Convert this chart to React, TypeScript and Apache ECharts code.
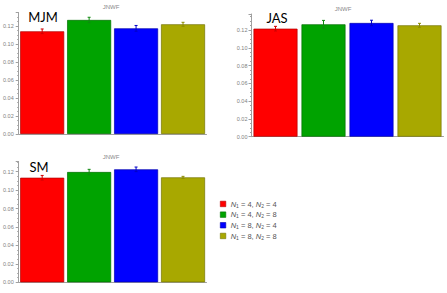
import React, { useEffect, useRef } from "react";
import * as echarts from "echarts";

const categories = ["N1=4,N2=4", "N1=4,N2=8", "N1=8,N2=4", "N1=8,N2=8"];
const legendLabels = [
  "{i|N}{s|1} = 4, {i|N}{s|2} = 4",
  "{i|N}{s|1} = 4, {i|N}{s|2} = 8",
  "{i|N}{s|1} = 8, {i|N}{s|2} = 4",
  "{i|N}{s|1} = 8, {i|N}{s|2} = 8",
];
const barColors = ["#ff0000", "#00a300", "#0000ff", "#a8a800"];
const edgeColors = ["#b30000", "#007000", "#0000b0", "#747400"];
const errorColors = ["#d00000", "#108a10", "#0000c8", "#8c8c00"];

const panelNames = ["MJM", "JAS", "SM"];
const panelTitle = "JNWF";
const mjmValues = [0.1141, 0.1267, 0.1174, 0.1219];
const mjmErrors = [0.0026, 0.003, 0.0032, 0.0022];
const jasValues = [0.1215, 0.1264, 0.1279, 0.1253];
const jasErrors = [0.0026, 0.0044, 0.0031, 0.0022];
const smValues = [0.1134, 0.1196, 0.1225, 0.1138];
const smErrors = [0.0025, 0.0029, 0.0025, 0.0011];
const yMax = [0.135, 0.138, 0.131];

const panels = [
  { values: mjmValues, errors: mjmErrors, grid: { left: 14.5, top: 12.5, width: 192, height: 121.5 }, title: [111, 7], label: [43, 17], labelMargin: 5 },
  { values: jasValues, errors: jasErrors, grid: { left: 251.5, top: 14, width: 192, height: 122.7 }, title: [343, 9], label: [277, 17.7], labelMargin: 4 },
  { values: smValues, errors: smErrors, grid: { left: 14.5, top: 161.5, width: 192, height: 120.8 }, title: [111, 157], label: [39, 166.5], labelMargin: 5 },
];

export default function App() {
  const ref = useRef<HTMLDivElement>(null);
  useEffect(() => {
    if (!ref.current) return;
    const chart = echarts.init(ref.current, undefined, { renderer: "svg" });
    const axisColor = "#a0a0a0";
    const grids: any[] = [];
    const xAxes: any[] = [];
    const yAxes: any[] = [];
    const series: any[] = [];
    const graphics: any[] = [];
    panels.forEach((p, i) => {
      grids.push({ ...p.grid, containLabel: false });
      xAxes.push({
        type: "category",
        gridIndex: i,
        data: categories,
        axisLine: { lineStyle: { color: axisColor, width: 1 } },
        axisTick: { show: false },
        axisLabel: { show: false },
        splitLine: { show: false },
      });
      yAxes.push({
        type: "value",
        gridIndex: i,
        min: 0,
        max: yMax[i],
        interval: 0.02,
        axisLine: { show: true, lineStyle: { color: axisColor, width: 1 } },
        axisTick: { show: true, length: 3, lineStyle: { color: axisColor } },
        minorTick: { show: true, splitNumber: 4, length: 1.5, lineStyle: { color: axisColor } },
        splitLine: { show: false },
        axisLabel: {
          fontSize: 5.5,
          color: "#808080",
          margin: p.labelMargin,
          fontFamily: "Liberation Sans",
          showMaxLabel: false,
          formatter: (v: number) => (Math.abs(v / 0.02 - Math.round(v / 0.02)) < 1e-6 ? v.toFixed(2) : ""),
        },
      });
      series.push({
        type: "bar",
        xAxisIndex: i,
        yAxisIndex: i,
        barWidth: 44,
        data: p.values.map((v, k) => ({
          value: v,
          itemStyle: { color: barColors[k], borderColor: edgeColors[k], borderWidth: 0.7 },
        })),
      });
      series.push({
        type: "custom",
        xAxisIndex: i,
        yAxisIndex: i,
        z: 5,
        data: p.values.map((v, k) => [k, v, p.errors[k]]),
        renderItem: (params: any, api: any) => {
          const x = api.value(0);
          const v = api.value(1);
          const e = api.value(2);
          const top = api.coord([x, v + e]);
          const bot = api.coord([x, v - e]);
          const c = errorColors[params.dataIndex];
          const cap = 1.5;
          const st = { stroke: c, lineWidth: 1 };
          return {
            type: "group",
            children: [
              { type: "line", shape: { x1: top[0], y1: top[1], x2: bot[0], y2: bot[1] }, style: st },
              { type: "line", shape: { x1: top[0] - cap, y1: top[1], x2: top[0] + cap, y2: top[1] }, style: st },
              { type: "line", shape: { x1: bot[0] - cap, y1: bot[1], x2: bot[0] + cap, y2: bot[1] }, style: st },
            ],
          };
        },
      });
      graphics.push({
        type: "text",
        x: p.title[0],
        y: p.title[1],
        style: { text: panelTitle, fontSize: 6, fill: "#888888", fontFamily: "Liberation Sans", align: "center", verticalAlign: "middle" },
      });
      graphics.push({
        type: "text",
        x: p.label[0],
        y: p.label[1],
        z: 10,
        style: { text: panelNames[i], fontSize: 13, fill: "#000", fontFamily: "Lato", align: "center", verticalAlign: "middle" },
      });
    });
    const legendYs = [204, 214.7, 225.3, 236];
    legendLabels.forEach((lab, k) => {
      graphics.push({
        type: "rect",
        shape: { x: 220.3, y: legendYs[k] - 2.8, width: 5.5, height: 5.5 },
        style: { fill: barColors[k], stroke: edgeColors[k], lineWidth: 0.6 },
      });
      graphics.push({
        type: "text",
        x: 230.7,
        y: legendYs[k],
        style: {
          text: lab,
          fontSize: 7.5,
          fill: "#555555",
          fontFamily: "Liberation Sans",
          verticalAlign: "middle",
          rich: {
            i: { fontStyle: "italic", fontSize: 7.5, fill: "#555555", fontFamily: "Liberation Sans" },
            s: { fontSize: 5, fill: "#555555", fontFamily: "Liberation Sans", padding: [3, 0, 0, 0] },
          },
        },
      });
    });
    chart.setOption({
      animation: false,
      backgroundColor: "#ffffff",
      grid: grids,
      xAxis: xAxes,
      yAxis: yAxes,
      series,
      graphic: graphics,
    });
    return () => chart.dispose();
  }, []);
  return <div ref={ref} style={{ position: "fixed", left: 0, top: 0, width: 447, height: 293 }} />;
}
